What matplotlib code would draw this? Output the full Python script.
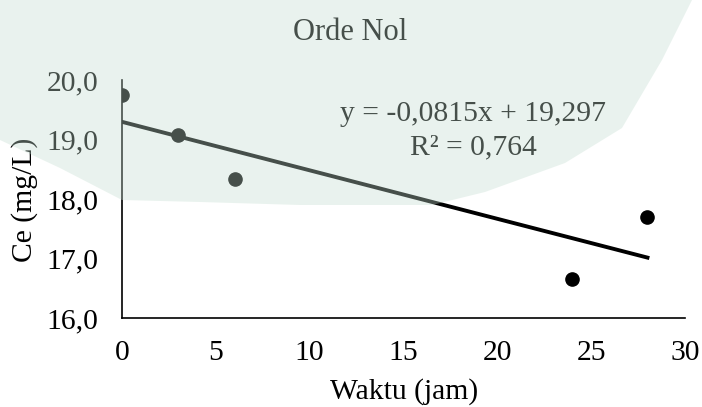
import matplotlib
matplotlib.use("Agg")
import matplotlib.pyplot as plt
from matplotlib.patches import Polygon

# data
waktu = [0, 3, 6, 24, 28]
ce = [19.74, 19.08, 18.33, 16.66, 17.70]
slope, intercept = -0.0815, 19.297
r2 = "0,764"
xticks = [0, 5, 10, 15, 20, 25, 30]
yticks = [16.0, 17.0, 18.0, 19.0, 20.0]

plt.rcParams['font.family'] = ['Liberation Serif', 'DejaVu Serif']
FS = 21.3

W, H = 702, 407
fig = plt.figure(figsize=(W / 100, H / 100), dpi=100)
ax = fig.add_axes([122 / W, 1 - 318 / H, (685 - 122) / W, (318 - 80) / H])

ax.scatter(waktu, ce, s=9.5 ** 2, color='black', zorder=3)
xs = [min(waktu), max(waktu)]
ax.plot(xs, [intercept + slope * x for x in xs], color='black', lw=2.8, zorder=2)

ax.set_xlim(0, 30)
ax.set_ylim(16, 20)
ax.set_xticks(xticks)
ax.set_yticks(yticks)
ax.set_yticklabels([f"{v:.1f}".replace('.', ',') for v in yticks])
ax.tick_params(axis='both', length=0, labelsize=FS)
ax.tick_params(axis='x', pad=16)
ax.tick_params(axis='y', pad=17)
for s in ['top', 'right']:
    ax.spines[s].set_visible(False)
for s in ['left', 'bottom']:
    ax.spines[s].set_linewidth(1.2)
ax.set_facecolor('none')

fig.text(350 / W, 1 - 32 / H, "Orde Nol", ha='center', va='center', fontsize=22)
fig.text(404 / W, 1 - 392 / H, "Waktu (jam)", ha='center', va='center', fontsize=FS)
fig.text(25 / W, 1 - 200 / H, "Ce (mg/L)", ha='center', va='center', rotation=90, fontsize=FS)
eq = f"y = {slope:.4f}x + {intercept:.3f}".replace('.', ',')
fig.text(473 / W, 1 - 114 / H, eq, ha='center', va='center', fontsize=FS)
fig.text(473 / W, 1 - 147 / H, f"R² = {r2}", ha='center', va='center', fontsize=FS)

# faint library watermark tint over the upper part
wm = [(0, 0), (692, 0), (662, 60), (622, 128), (565, 163), (485, 192), (432, 205),
      (300, 205), (200, 202), (122, 200), (60, 168), (0, 140)]
fig.add_artist(Polygon([(x / W, 1 - y / H) for x, y in wm], closed=True,
                       transform=fig.transFigure, facecolor=(195 / 255, 221 / 255, 208 / 255),
                       edgecolor='none', alpha=0.36, zorder=20))

fig.savefig("out.png", dpi=100)
